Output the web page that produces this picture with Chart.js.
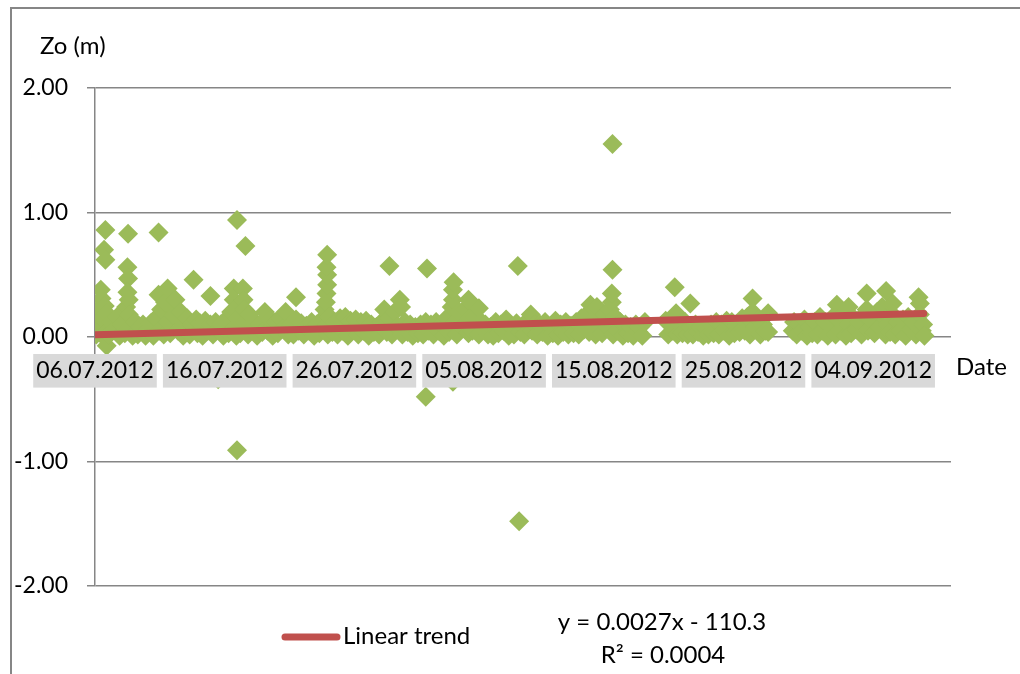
<!DOCTYPE html>
<html>
<head>
<meta charset="utf-8">
<script src="https://cdn.jsdelivr.net/npm/chart.js@4.4.1/dist/chart.umd.min.js"></script>
<style>
  html, body { margin: 0; padding: 0; background: #ffffff; }
  #wrap { width: 1020px; height: 674px; }
</style>
</head>
<body>
<div id="wrap"><canvas id="chart" width="1020" height="674"></canvas></div>
<script>
// Roughness length Zo (m) observations, as [days since 06.07.2012, Zo]
const zoJul06 = [
  [0.1,0.02],[0.2,0.22],[0.3,0.08],[0.45,0.38],[0.5,0.31],[0.55,0.15],[0.6,0.01],[0.7,0.70],
  [0.75,0.25],[0.8,0.86],[0.8,0.62],[0.9,-0.07],[0.9,0.19],[1.0,0.05],
  [1.1,0.02],[1.3,0.12],[1.5,0.06],[1.7,0.16],[1.9,0.01],
  [2.1,0.10],[2.3,0.03],[2.4,0.24],[2.55,0.83],[2.5,0.56],[2.55,0.47],[2.5,0.36],[2.6,0.30],
  [2.6,0.18],[2.7,0.08],[2.9,0.01],
  [3.1,0.12],[3.3,0.02],[3.5,0.08],[3.7,0.10],[3.9,0.01],
  [4.1,0.06],[4.3,0.11],[4.5,0.01],[4.7,0.15],[4.9,0.84],[4.9,0.34],[4.95,0.05],
  [5.1,0.22],[5.3,0.02],[5.4,0.28],[5.6,0.39],[5.6,0.12],[5.8,0.03],[5.9,0.25],
  [6.1,0.17],[6.2,0.30],[6.4,0.05],[6.6,0.20],[6.8,0.01],[6.9,0.12],
  [7.1,0.15],[7.3,0.02],[7.5,0.10],[7.6,0.46],[7.8,0.14],[7.9,0.03],
  [8.1,0.11],[8.3,0.01],[8.5,0.13],[8.7,0.05],[8.9,0.33],[8.9,0.10],
  [9.1,0.02],[9.3,0.12],[9.5,-0.34],[9.5,0.06],[9.7,0.10],[9.9,0.01]
];
const zoJul16 = [
  [10.1,0.14],[10.3,0.03],[10.5,0.20],[10.7,0.39],[10.7,0.30],[10.75,0.22],[10.8,0.08],[10.9,0.01],
  [10.95,0.94],[10.95,-0.91],[11.0,0.15],[11.2,0.03],[11.4,0.39],[11.45,0.30],[11.5,0.22],
  [11.6,0.73],[11.6,0.12],[11.8,0.02],[11.9,0.18],
  [12.1,0.06],[12.3,0.12],[12.5,0.01],[12.7,0.10],[12.9,0.04],
  [13.1,0.20],[13.3,0.05],[13.5,0.14],[13.7,0.01],[13.9,0.12],
  [14.1,0.03],[14.3,0.15],[14.5,0.07],[14.7,0.20],[14.9,0.02],
  [15.1,0.10],[15.3,0.02],[15.5,0.32],[15.5,0.14],[15.7,0.05],[15.9,0.11],
  [16.1,0.02],[16.3,0.09],[16.5,0.05],[16.7,0.12],[16.9,0.01],
  [17.1,0.10],[17.3,0.03],[17.5,0.14],[17.7,0.22],[17.8,0.28],[17.85,0.35],[17.9,0.42],
  [17.9,0.50],[17.85,0.56],[17.9,0.66],[17.9,0.10],[17.95,0.02],
  [18.1,0.16],[18.3,0.04],[18.5,0.12],[18.7,0.02],[18.9,0.15],
  [19.1,0.05],[19.3,0.16],[19.5,0.01],[19.7,0.13],[19.9,0.06]
];
const zoJul26 = [
  [20.1,0.14],[20.3,0.02],[20.5,0.12],[20.7,0.05],[20.9,0.13],
  [21.1,0.01],[21.3,0.10],[21.5,0.04],[21.7,0.08],[21.9,0.02],
  [22.1,0.12],[22.3,0.22],[22.5,0.04],[22.7,0.57],[22.7,0.15],[22.9,0.02],
  [23.1,0.20],[23.3,0.08],[23.5,0.30],[23.6,0.24],[23.7,0.02],[23.9,0.12],
  [24.1,0.04],[24.3,0.10],[24.5,0.01],[24.7,0.08],[24.9,0.03],
  [25.1,0.10],[25.3,0.02],[25.5,-0.48],[25.5,0.12],[25.6,0.55],[25.7,0.05],[25.9,0.10],
  [26.1,0.02],[26.3,0.12],[26.5,0.05],[26.7,0.10],[26.9,0.01],
  [27.1,0.15],[27.3,0.04],[27.5,0.24],[27.6,0.30],[27.6,0.38],[27.65,0.44],[27.6,-0.36],
  [27.7,0.12],[27.9,0.02],
  [28.1,0.20],[28.3,0.08],[28.5,0.22],[28.8,0.30],[28.8,0.03],[28.9,0.15],
  [29.1,0.05],[29.3,0.16],[29.6,0.23],[29.6,0.02],[29.8,0.12]
];
const zoAug05 = [
  [30.1,0.10],[30.3,0.02],[30.5,0.08],[30.7,0.01],[30.9,0.12],
  [31.1,0.03],[31.3,0.10],[31.5,0.05],[31.7,0.14],[31.9,0.01],
  [32.1,0.08],[32.3,0.02],[32.5,0.11],[32.6,0.57],[32.7,-1.48],[32.8,0.04],[32.95,0.09],
  [33.1,0.02],[33.3,0.12],[33.6,0.18],[33.7,0.05],[33.9,0.10],
  [34.1,0.02],[34.3,0.10],[34.5,0.04],[34.7,0.12],[34.9,0.01],
  [35.1,0.08],[35.3,0.03],[35.5,0.13],[35.7,0.01],[35.9,0.10],
  [36.1,0.04],[36.3,0.12],[36.5,0.02],[36.7,0.09],[36.9,0.03],
  [37.1,0.12],[37.3,0.02],[37.5,0.15],[37.7,0.06],[37.9,0.18],
  [38.1,0.04],[38.2,0.26],[38.4,0.14],[38.6,0.02],[38.7,0.24],[38.9,0.10],
  [39.1,0.03],[39.3,0.18],[39.5,0.08],[39.7,0.22],[39.85,0.28],[39.85,0.35],[39.9,0.54],
  [39.9,1.55],[39.9,0.12],[39.95,0.02]
];
const zoAug15 = [
  [40.1,0.16],[40.3,0.05],[40.5,0.12],[40.7,0.01],[40.9,0.10],
  [41.1,0.03],[41.3,0.08],[41.5,0.01],[41.7,0.10],[41.9,0.04],
  [42.0,0.08],[42.2,0.01],[42.4,0.12],
  [44.0,0.13],[44.2,0.02],[44.4,0.10],[44.55,0.05],[44.7,0.40],[44.8,0.19],[44.9,0.02],
  [45.1,0.10],[45.3,0.03],[45.5,0.12],[45.7,0.02],[45.9,0.27],[45.9,0.08],
  [46.1,0.02],[46.3,0.10],[46.5,0.04],[46.7,0.08],[46.9,0.01],
  [47.1,0.07],[47.3,0.02],[47.5,0.10],[47.7,0.03],[47.9,0.12],
  [48.1,0.02],[48.3,0.10],[48.5,0.05],[48.7,0.13],[48.9,0.01],
  [49.1,0.12],[49.3,0.03],[49.5,0.10],[49.7,0.04],[49.9,0.15]
];
const zoAug25 = [
  [50.1,0.05],[50.3,0.16],[50.5,0.02],[50.7,0.31],[50.7,0.20],[50.9,0.08],
  [51.1,0.14],[51.3,0.02],[51.5,0.10],[51.7,0.05],[51.9,0.19],[51.9,0.04],
  [53.8,0.05],[53.9,0.12],
  [54.1,0.02],[54.3,0.10],[54.5,0.05],[54.7,0.14],[54.9,0.01],
  [55.1,0.08],[55.3,0.03],[55.5,0.12],[55.7,0.02],[55.9,0.16],
  [56.1,0.05],[56.3,0.12],[56.5,0.01],[56.8,0.15],[56.9,0.06],
  [57.1,0.02],[57.2,0.26],[57.3,0.14],[57.5,0.05],[57.7,0.18],[57.9,0.01],
  [58.1,0.24],[58.1,0.10],[58.3,0.03],[58.5,0.15],[58.7,0.06],[58.9,0.12],
  [59.1,0.02],[59.3,0.18],[59.5,0.35],[59.5,0.22],[59.6,0.05],[59.8,0.14]
];
const zoSep04 = [
  [60.1,0.03],[60.3,0.20],[60.5,0.08],[60.7,0.24],[61.0,0.37],[60.9,0.15],[60.95,0.02],
  [61.1,0.10],[61.3,0.04],[61.5,0.27],[61.5,0.18],[61.7,0.02],[61.9,0.12],
  [62.1,0.05],[62.3,0.14],[62.5,0.01],[62.7,0.16],[62.9,0.06],
  [63.1,0.12],[63.3,0.02],[63.5,0.32],[63.6,0.27],[63.6,0.18],[63.75,0.05],[63.85,0.10],[63.95,0.01]
];

// Date axis: one tick every 10 days starting 06.07.2012
const tickLabels = ['06.07.2012','16.07.2012','26.07.2012','05.08.2012','15.08.2012','25.08.2012','04.09.2012'];
const axisDays = [0, 66];
const zoTicks = [-2, -1, 0, 1, 2];

// Least-squares trend, x in Excel date serials (06.07.2012 = 41096)
const serialStart = 41096;
const trendSlope = 0.0026844;
const trendIntercept = -110.3;
const trendDays = [0, 63.9];
const trendLabel = 'Linear trend';
const equationLines = ['y = 0.0027x - 110.3', 'R\u00B2 = 0.0004'];

const FONT = 'Lato, "Open Sans", sans-serif';
const GREEN = '#9BBB59';
const RED = '#C0504D';
const AXIS = '#868686';

const observations = [].concat(zoJul06, zoJul16, zoJul26, zoAug05, zoAug15, zoAug25, zoSep04)
  .map(([d, z]) => ({ x: d, y: z }));
const trendPoints = trendDays.map(d => ({ x: d, y: trendSlope * (serialStart + d) + trendIntercept }));

// Frame, axis captions, legend entry and trend equation
const decorations = {
  id: 'decorations',
  beforeDraw(chart) {
    const ctx = chart.ctx;
    ctx.save();
    ctx.strokeStyle = AXIS;
    ctx.lineWidth = 2;
    ctx.beginPath();
    ctx.moveTo(11, 674);
    ctx.lineTo(11, 8);
    ctx.lineTo(1020, 8);
    ctx.stroke();
    ctx.restore();
  },
  afterDraw(chart) {
    const ctx = chart.ctx;
    ctx.save();
    ctx.fillStyle = '#000';
    ctx.font = '24px ' + FONT;
    ctx.textBaseline = 'middle';
    ctx.textAlign = 'left';
    ctx.fillText('Zo (m)', 40, 46);
    ctx.fillText('Date', 956, 367);

    // legend entry for the trend line
    const ds = chart.data.datasets[0];
    ctx.strokeStyle = ds.borderColor;
    ctx.lineWidth = 7;
    ctx.lineCap = 'round';
    ctx.beginPath();
    ctx.moveTo(285, 637);
    ctx.lineTo(337, 637);
    ctx.stroke();
    ctx.fillText(ds.label, 343, 636);

    ctx.textAlign = 'center';
    ctx.fillText(equationLines[0], 662, 622);
    ctx.fillText(equationLines[1], 663, 655);
    ctx.restore();
  }
};

new Chart(document.getElementById('chart'), {
  type: 'scatter',
  data: {
    datasets: [
      {
        label: trendLabel,
        data: trendPoints,
        showLine: true,
        borderColor: RED,
        backgroundColor: RED,
        borderWidth: 7,
        borderCapStyle: 'round',
        pointRadius: 0,
        order: 0
      },
      {
        label: 'Zo',
        data: observations,
        pointStyle: 'rectRot',
        pointRadius: 10,
        pointBorderWidth: 0,
        backgroundColor: GREEN,
        borderColor: GREEN,
        order: 1
      }
    ]
  },
  options: {
    responsive: false,
    animation: false,
    events: [],
    layout: { padding: { left: 0, right: 69, top: 88, bottom: 88 } },
    plugins: { legend: { display: false }, tooltip: { enabled: false } },
    scales: {
      x: {
        type: 'linear',
        position: { y: 0 },
        min: axisDays[0],
        max: axisDays[1],
        grid: { display: false, drawTicks: false },
        border: { display: false },
        ticks: {
          z: 1,
          stepSize: 10,
          includeBounds: false,
          autoSkip: false,
          maxRotation: 0,
          padding: 20,
          color: '#000',
          font: { family: FONT, size: 23 },
          showLabelBackdrop: true,
          backdropColor: '#D9D9D9',
          backdropPadding: { top: 3, bottom: 3, left: 3, right: 3 },
          callback: v => tickLabels[Math.round(v / 10)]
        }
      },
      y: {
        min: zoTicks[0],
        max: zoTicks[zoTicks.length - 1],
        afterFit: s => { s.width = 95; },
        grid: { color: AXIS, lineWidth: 1.5, tickLength: 8 },
        border: { color: AXIS, width: 1.5 },
        ticks: {
          stepSize: 1,
          padding: 19,
          color: '#000',
          font: { family: FONT, size: 23 },
          callback: v => v.toFixed(2)
        },
        afterBuildTicks: s => { s.ticks = zoTicks.map(v => ({ value: v })); }
      }
    }
  },
  plugins: [decorations]
});
</script>
</body>
</html>
